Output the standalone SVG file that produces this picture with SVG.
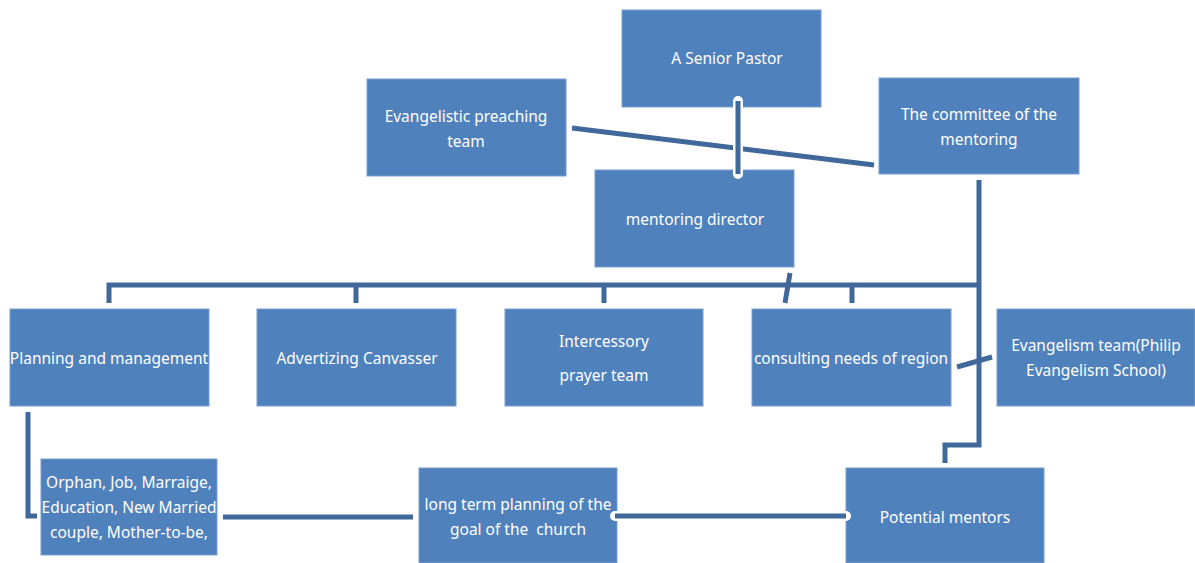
<svg xmlns="http://www.w3.org/2000/svg" width="1195" height="563" viewBox="0 0 1195 563">
<style>
.box{fill:#4f81bd;stroke:#7d9fd0;stroke-width:1}
.t{font-family:"Noto Sans","Open Sans","DejaVu Sans",sans-serif;font-size:15.5px;fill:#ffffff;text-anchor:middle;white-space:pre}
.c{fill:none;stroke:#41689b;stroke-width:5}
.w{fill:none;stroke:#ffffff;stroke-width:10;stroke-linecap:round;stroke-linejoin:round}
</style>
<rect width="1195" height="563" fill="#ffffff"/>
<g id="senior-pastor"><rect class="box" x="622" y="10" width="199" height="97"/><text class="t" x="727" y="64">A Senior Pastor</text></g>
<g id="evangelistic-preaching"><rect class="box" x="367" y="79" width="199" height="97"/><text class="t" x="466" y="122">Evangelistic preaching</text><text class="t" x="466" y="147">team</text></g>
<g id="committee"><rect class="box" x="879" y="78" width="200" height="96"/><text class="t" x="979" y="120">The committee of the</text><text class="t" x="979" y="145">mentoring</text></g>
<g id="mentoring-director"><rect class="box" x="595" y="170" width="199" height="97"/><text class="t" x="695" y="225">mentoring director</text></g>
<g id="planning"><rect class="box" x="10" y="309" width="199" height="97"/><text class="t" x="109" y="364">Planning and management</text></g>
<g id="advertizing"><rect class="box" x="257" y="309" width="199" height="97"/><text class="t" x="357" y="364">Advertizing Canvasser</text></g>
<g id="intercessory"><rect class="box" x="505" y="309" width="198" height="97"/><text class="t" x="604" y="347">Intercessory</text><text class="t" x="604" y="381">prayer team</text></g>
<g id="consulting"><rect class="box" x="752" y="309" width="199" height="97"/><text class="t" x="851" y="364">consulting needs of region</text></g>
<g id="evangelism-team"><rect class="box" x="997" y="309" width="198" height="97"/><text class="t" x="1096" y="351">Evangelism team(Philip</text><text class="t" x="1096" y="376">Evangelism School)</text></g>
<g id="orphan"><rect class="box" x="41" y="459" width="176" height="96"/><text class="t" x="129" y="488">Orphan, Job, Marraige,</text><text class="t" x="129" y="513">Education, New Married</text><text class="t" x="129" y="538">couple, Mother-to-be,</text></g>
<g id="long-term"><rect class="box" x="419" y="468" width="198" height="95"/><text class="t" x="518" y="510">long term planning of the</text><text class="t" x="518" y="535" xml:space="preserve">goal of the  church</text></g>
<g id="potential-mentors"><rect class="box" x="846" y="468" width="198" height="95"/><text class="t" x="945" y="523">Potential mentors</text></g>
<g id="connectors">
<line class="c" x1="572" y1="128" x2="874" y2="165"/>
<path class="c" d="M109,303 V285 H979"/>
<line class="c" x1="356" y1="285" x2="356" y2="303"/>
<line class="c" x1="604" y1="285" x2="604" y2="303"/>
<line class="c" x1="852" y1="285" x2="852" y2="303"/>
<path class="c" d="M979,180 V445 H945 V463"/>
<line class="c" x1="790" y1="273" x2="785" y2="303"/>
<line class="c" x1="957" y1="367" x2="992" y2="357"/>
<path class="c" d="M28,412 V516 H37"/>
<line class="c" x1="223" y1="517" x2="413" y2="517"/>
<line class="w" x1="615" y1="516" x2="846" y2="516"/>
<line class="c" x1="615" y1="516" x2="846" y2="516"/>
<line class="w" x1="738" y1="101" x2="738" y2="174"/>
<line class="c" x1="738" y1="101" x2="738" y2="174"/>
</g>
</svg>
